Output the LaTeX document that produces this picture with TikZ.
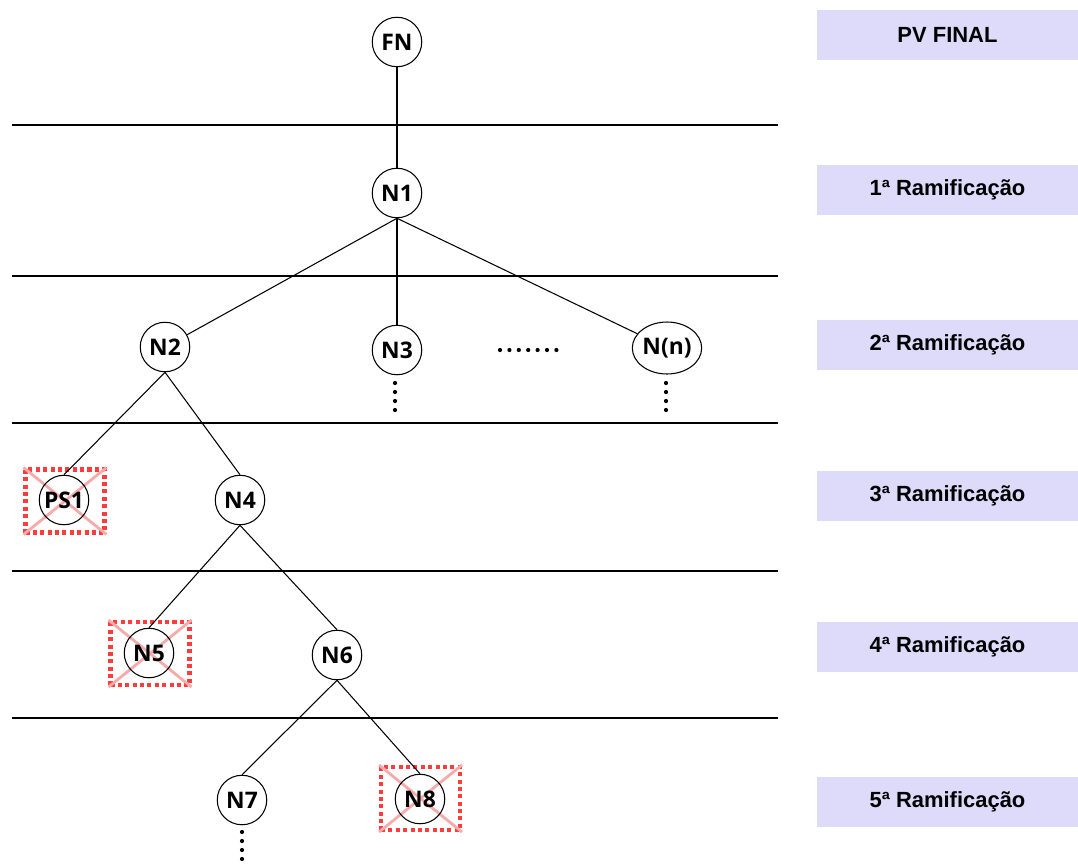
\documentclass[tikz,border=0pt]{standalone}
\usepackage{fontspec}
\newfontfamily\nofont{Open Sans}
\newfontfamily\nivelfont{Liberation Sans}
\usetikzlibrary{shapes.geometric}

\definecolor{lavanda}{RGB}{221,218,250}
\definecolor{vermelho}{RGB}{255,60,60}
\definecolor{rosa}{RGB}{247,170,170}

\begin{document}
\begin{tikzpicture}[x=0.02cm, y=-0.02cm,
		no/.style={circle, draw, line width=0.6pt, minimum size=0.99cm, inner sep=0pt,
			font=\nofont\bfseries\fontsize{13}{15}\selectfont},
		nivel/.style={fill=lavanda, minimum width=5.22cm, minimum height=1cm, inner sep=0pt,
			font=\nivelfont\bfseries\fontsize{12.5}{15}\selectfont},
		corte/.style={draw=vermelho, line width=2.3pt, dash pattern=on 2.3pt off 1.9pt,
			minimum width=1.58cm, minimum height=1.26cm, inner sep=0pt},
		xis/.style={draw=rosa, line width=1.6pt},
		ramo/.style={line width=0.6pt}]
		\useasboundingbox (0,0) rectangle (1078,863);

		% separadores entre os niveis
		\foreach \y in {125, 276, 423, 571, 718}{
			\draw[line width=1.4pt] (12, \y)--(778, \y);
		}

		% caixas de corte (ramos descartados)
		\node[corte] (cPS1) at (65, 501) {};
		\node[corte] (cN5) at (150, 653.5) {};
		\node[corte] (cN8) at (420.5, 798.5) {};
		\foreach \c in {cPS1, cN5, cN8}{
			\draw[xis] (\c.north west)--(\c.south east);
			\draw[xis] (\c.north east)--(\c.south west);
		}

		% nos da arvore
		\node[no] (FN) at (397, 42) {FN};
		\node[no] (N1) at (397, 193) {N1};
		\node[no] (N2) at (165, 347) {N2};
		\node[no] (N3) at (397, 350) {N3};
		\node[no, ellipse, minimum width=1.32cm, minimum height=1.04cm] (Nn) at (667, 348) {N(n)};
		\node[no] (PS1) at (64, 500) {PS1};
		\node[no] (N4) at (240, 500) {N4};
		\node[no] (N5) at (149, 653) {N5};
		\node[no] (N6) at (337, 655) {N6};
		\node[no] (N7) at (242, 800) {N7};
		\node[no] (N8) at (420, 799) {N8};

		\draw[ramo] (FN)--(N1);
		\draw[ramo] (N1.south)--(N2);
		\draw[ramo] (N1.south)--(N3);
		\draw[ramo] (N1.south)--(Nn);
		\draw[ramo] (N2.south)--(PS1.north);
		\draw[ramo] (N2.south)--(N4.north);
		\draw[ramo] (N4.south)--(N5.north);
		\draw[ramo] (N4.south)--(N6.north);
		\draw[ramo] (N6.south)--(N7.north);
		\draw[ramo] (N6.south)--(N8.north);

		% reticencias
		\foreach \k in {0, ..., 6}{
			\fill (500+9.4*\k, 350) circle[radius=1.2pt];
		}
		\foreach \k in {0, ..., 3}{
			\fill (395, 383+9*\k) circle[radius=1.2pt];
			\fill (666, 383+9*\k) circle[radius=1.2pt];
			\fill (242, 832+9*\k) circle[radius=1.2pt];
		}

		% rotulos dos niveis
		\node[nivel] (L0) at (947.5, 35) {PV FINAL};
		\node[nivel] (L1) at (947.5, 190) {1ª Ramificação};
		\node[nivel] (L2) at (947.5, 345) {2ª Ramificação};
		\node[nivel] (L3) at (947.5, 496) {3ª Ramificação};
		\node[nivel] (L4) at (947.5, 647) {4ª Ramificação};
		\node[nivel] (L5) at (947.5, 802) {5ª Ramificação};
	\end{tikzpicture}
\end{document}
